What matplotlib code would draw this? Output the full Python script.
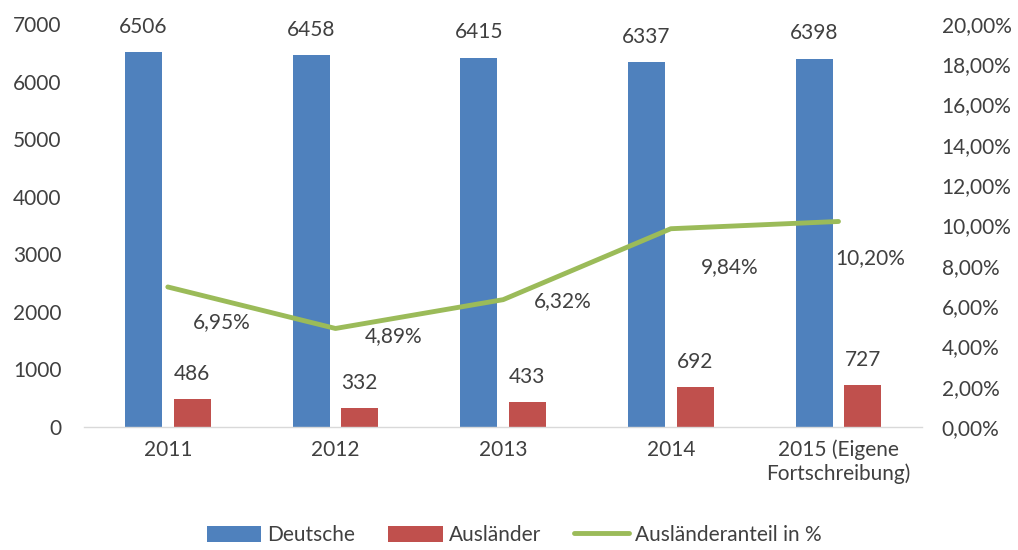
import matplotlib.pyplot as plt
import numpy as np
from matplotlib.ticker import FuncFormatter

YEARS = ["2011", "2012", "2013", "2014", "2015 (Eigene\nFortschreibung)"]
DEUTSCHE = [6506, 6458, 6415, 6337, 6398]
AUSLAENDER = [486, 332, 433, 692, 727]
ANTEIL = [6.95, 4.89, 6.32, 9.84, 10.20]

BLUE = "#4F81BD"
RED = "#C0504D"
GREEN = "#9BBB59"
TXT = "#404040"
FS = 15

plt.rcParams.update({"font.family": ["Lato", "DejaVu Sans"], "font.size": FS})

fig = plt.figure(figsize=(10.18, 5.5), dpi=100)
ax = fig.add_axes([0.0825, 0.2236, 0.8235, 0.7328])
ax2 = ax.twinx()

x = np.arange(len(YEARS))
w = 0.22
b1 = ax.bar(x - 0.145, DEUTSCHE, w, color=BLUE, label="Deutsche")
b2 = ax.bar(x + 0.145, AUSLAENDER, w, color=RED, label="Ausländer")
for xi, v in zip(x, DEUTSCHE):
    ax.annotate(str(v), (xi - 0.145, v), xytext=(0, 11), textcoords="offset points",
                ha="center", va="bottom", fontsize=FS, color=TXT)
for xi, v in zip(x, AUSLAENDER):
    ax.annotate(str(v), (xi + 0.145, v), xytext=(0, 11), textcoords="offset points",
                ha="center", va="bottom", fontsize=FS, color=TXT)

ln, = ax2.plot(x, ANTEIL, color=GREEN, lw=3.5, label="Ausländeranteil in %",
               solid_capstyle="round")
# label offsets in pixels, roughly as Excel placed them
offs = [(54, -35), (58, -8), (60, -1), (59, -38), (32, -37)]
for xi, v, (dx, dy) in zip(x, ANTEIL, offs):
    ax2.annotate(f"{v:.2f}%".replace(".", ","), (xi, v), xytext=(dx * 0.72, dy * 0.72),
                 textcoords="offset points", ha="center", va="center",
                 fontsize=FS, color=TXT)

ax.set_xlim(-0.5, len(YEARS) - 0.5)
ax.set_ylim(0, 7000)
ax.set_yticks(range(0, 7001, 1000))
ax2.set_ylim(0, 20)
ax2.set_yticks(np.arange(0, 20.1, 2))
ax2.yaxis.set_major_formatter(FuncFormatter(lambda v, p: f"{v:.2f}%".replace(".", ",")))
ax.set_xticks(x)
ax.set_xticklabels(YEARS)

for a in (ax, ax2):
    for s in a.spines.values():
        s.set_visible(False)
    a.tick_params(length=0, labelsize=FS, colors=TXT)
ax.spines["bottom"].set_visible(True)
ax.spines["bottom"].set_color("#D9D9D9")
ax.spines["bottom"].set_linewidth(1)
ax.tick_params(axis="y", pad=16)
ax.tick_params(axis="x", pad=9)
ax2.tick_params(axis="y", pad=14)

fig.legend([b1, b2, ln], ["Deutsche", "Ausländer", "Ausländeranteil in %"],
           loc="lower center", bbox_to_anchor=(0.505, -0.025), ncol=3, frameon=False,
           fontsize=FS, handlelength=2.6, handleheight=0.8, columnspacing=1.6,
           handletextpad=0.3, labelcolor=TXT)

fig.savefig("out.png", dpi=100)
